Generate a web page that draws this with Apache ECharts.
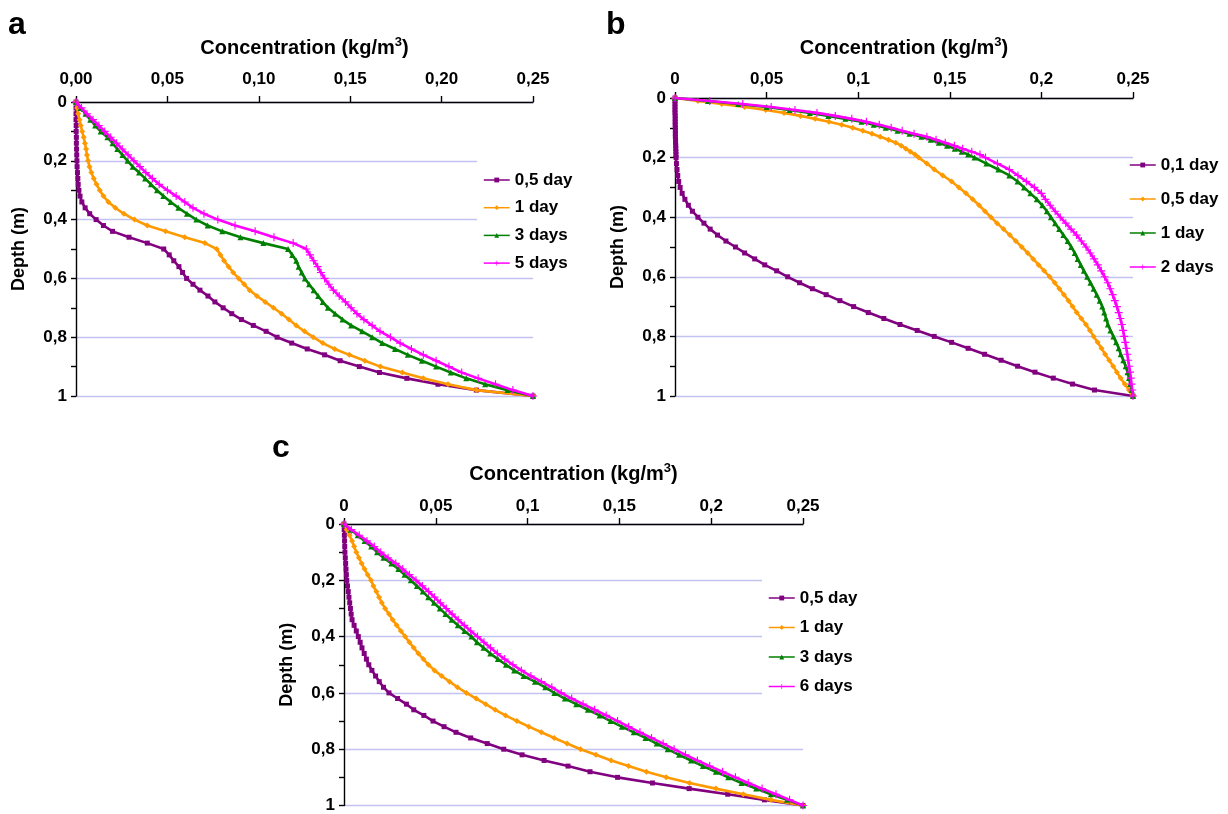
<!DOCTYPE html>
<html>
<head>
<meta charset="utf-8">
<title>Concentration profiles</title>
<script src="https://cdn.jsdelivr.net/npm/echarts@6/dist/echarts.min.js"></script>
<style>
  html, body { margin: 0; padding: 0; background: #fff; }
  #chart { width: 1228px; height: 814px; }
</style>
</head>
<body>
<div id="chart"></div>
<script>
// ---- depth grids (m) ----
const depthA = [0,0.02,0.04,0.06,0.08,0.1,0.12,0.14,0.16,0.18,0.2,0.22,0.24,0.26,0.28,0.3,0.32,0.34,0.36,0.38,0.4,0.42,0.44,0.46,0.48,0.5,0.52,0.54,0.56,0.58,0.6,0.62,0.64,0.66,0.68,0.7,0.72,0.74,0.76,0.78,0.8,0.82,0.84,0.86,0.88,0.9,0.92,0.94,0.96,0.98,1];
const depthB = [0,0.01,0.02,0.03,0.04,0.05,0.06,0.07,0.08,0.09,0.1,0.11,0.12,0.13,0.14,0.15,0.16,0.17,0.18,0.19,0.2,0.22,0.24,0.26,0.28,0.3,0.32,0.34,0.36,0.38,0.4,0.42,0.44,0.46,0.48,0.5,0.52,0.54,0.56,0.58,0.6,0.62,0.64,0.66,0.68,0.7,0.72,0.74,0.76,0.78,0.8,0.82,0.84,0.86,0.88,0.9,0.92,0.94,0.96,0.98,1];
const depthC = [0,0.02,0.04,0.06,0.08,0.1,0.12,0.14,0.16,0.18,0.2,0.22,0.24,0.26,0.28,0.3,0.32,0.34,0.36,0.38,0.4,0.42,0.44,0.46,0.48,0.5,0.52,0.54,0.56,0.58,0.6,0.62,0.64,0.66,0.68,0.7,0.72,0.74,0.76,0.78,0.8,0.82,0.84,0.86,0.88,0.9,0.92,0.94,0.96,0.98,1];

// ---- panel a: concentration (kg/m3) ----
const concA_05day = [0,0,0,0,0.0001,0.0001,0.0002,0.0002,0.0003,0.0004,0.0005,0.0006,0.0008,0.001,0.0012,0.0016,0.0022,0.0032,0.005,0.0075,0.011,0.015,0.02,0.029,0.039,0.048,0.051,0.0535,0.0563,0.0583,0.0605,0.064,0.0678,0.0722,0.076,0.0805,0.0852,0.0905,0.097,0.104,0.11,0.118,0.1265,0.136,0.1445,0.155,0.166,0.181,0.198,0.219,0.25];
const concA_1day = [0,0.0006,0.0012,0.0019,0.0026,0.0034,0.0042,0.0049,0.0055,0.006,0.0066,0.0074,0.0084,0.0097,0.0112,0.013,0.015,0.0177,0.0215,0.0262,0.032,0.039,0.049,0.0595,0.0705,0.077,0.079,0.081,0.0835,0.086,0.089,0.092,0.095,0.099,0.1035,0.108,0.1125,0.1165,0.1205,0.125,0.1298,0.135,0.1415,0.1495,0.158,0.1665,0.1785,0.19,0.2035,0.219,0.25];
const concA_3days = [0,0.0026,0.0052,0.0078,0.0105,0.0135,0.0172,0.02,0.0226,0.0254,0.0282,0.031,0.0345,0.0378,0.041,0.0443,0.0478,0.0518,0.056,0.0607,0.0658,0.072,0.08,0.09,0.1025,0.116,0.1183,0.1205,0.1218,0.1235,0.1252,0.1275,0.13,0.1325,0.135,0.1378,0.1418,0.1458,0.1505,0.1565,0.162,0.1675,0.1745,0.1815,0.1892,0.197,0.205,0.2135,0.2238,0.236,0.25];
const concA_5days = [0,0.003,0.006,0.0093,0.0125,0.0157,0.019,0.0222,0.0253,0.0285,0.0317,0.035,0.0382,0.0418,0.0455,0.05,0.0548,0.0595,0.064,0.07,0.0776,0.087,0.098,0.1083,0.1188,0.126,0.128,0.13,0.1322,0.134,0.136,0.1383,0.1408,0.144,0.1474,0.1505,0.1537,0.1575,0.162,0.1663,0.172,0.1773,0.1835,0.19,0.197,0.204,0.211,0.22,0.2295,0.239,0.25];

// ---- panel b ----
const concB_01day = [0,0,0,0,0,0,0.0001,0.0001,0.0001,0.0001,0.0002,0.0002,0.0002,0.0002,0.0003,0.0003,0.0004,0.0004,0.0005,0.0005,0.0006,0.0008,0.0011,0.0015,0.002,0.0028,0.0039,0.0054,0.0073,0.0095,0.0125,0.0158,0.0192,0.0232,0.0278,0.033,0.038,0.0435,0.049,0.0555,0.0615,0.068,0.075,0.0825,0.09,0.0975,0.1055,0.114,0.1228,0.1322,0.1415,0.151,0.16,0.169,0.178,0.187,0.1965,0.2065,0.217,0.229,0.25];
const concB_05day = [0,0.0125,0.0255,0.038,0.0495,0.0595,0.0685,0.0765,0.084,0.091,0.097,0.1025,0.1075,0.112,0.1165,0.1205,0.1235,0.126,0.1285,0.131,0.133,0.1375,0.1415,0.1462,0.151,0.155,0.1588,0.1625,0.166,0.1692,0.1725,0.1758,0.1793,0.1828,0.186,0.1893,0.1925,0.1955,0.1985,0.2015,0.2045,0.2073,0.2098,0.2123,0.2148,0.217,0.2193,0.2218,0.2243,0.2265,0.2285,0.2307,0.2328,0.2348,0.237,0.2392,0.2412,0.2432,0.2455,0.2478,0.25];
const concB_1day = [0,0.018,0.0345,0.05,0.0625,0.0736,0.0837,0.093,0.1018,0.1085,0.115,0.1215,0.128,0.1345,0.1396,0.144,0.1485,0.1527,0.1565,0.16,0.1635,0.17,0.1765,0.1825,0.187,0.1905,0.194,0.1975,0.2005,0.203,0.2052,0.2075,0.2097,0.212,0.2143,0.2163,0.2182,0.2198,0.2215,0.2232,0.225,0.2268,0.2285,0.2302,0.2318,0.2332,0.2343,0.2353,0.2363,0.2377,0.2393,0.2408,0.2422,0.2433,0.2447,0.246,0.247,0.2478,0.2485,0.2493,0.25];
const concB_2days = [0,0.019,0.037,0.0525,0.0655,0.0775,0.0875,0.0965,0.1045,0.1115,0.118,0.124,0.1305,0.1375,0.1425,0.1475,0.1525,0.157,0.162,0.1665,0.1695,0.176,0.1825,0.1872,0.1918,0.1962,0.2,0.2022,0.2048,0.2075,0.2103,0.2133,0.2162,0.2192,0.2218,0.2244,0.2267,0.2288,0.2308,0.2327,0.2345,0.2362,0.2376,0.2389,0.2401,0.2412,0.2422,0.2431,0.2439,0.2446,0.2452,0.2458,0.2464,0.2469,0.2474,0.2479,0.2484,0.2488,0.2492,0.2496,0.25];

// ---- panel c ----
const concC_05day = [0,0.0001,0.0002,0.0003,0.0004,0.0005,0.0007,0.0009,0.0011,0.0013,0.0015,0.0019,0.0023,0.0027,0.0031,0.0035,0.0039,0.0044,0.0055,0.0067,0.0078,0.0088,0.0098,0.011,0.0122,0.0135,0.0152,0.0172,0.0192,0.0215,0.0245,0.0292,0.034,0.038,0.0435,0.0485,0.0545,0.061,0.069,0.078,0.087,0.097,0.109,0.122,0.134,0.149,0.168,0.188,0.209,0.229,0.25];
const concC_1day = [0,0.0015,0.003,0.0044,0.0055,0.0067,0.0081,0.0096,0.0112,0.0129,0.0147,0.016,0.0176,0.0191,0.0206,0.0224,0.0245,0.0265,0.0287,0.031,0.0333,0.0356,0.038,0.0405,0.0432,0.046,0.0493,0.0532,0.0575,0.0618,0.0667,0.072,0.0772,0.0823,0.088,0.0942,0.1007,0.1075,0.1145,0.1215,0.1288,0.1372,0.1455,0.155,0.1647,0.1755,0.1882,0.2025,0.2175,0.2325,0.25];
const concC_3days = [0,0.0037,0.0075,0.0112,0.0148,0.018,0.0215,0.0258,0.0296,0.033,0.0364,0.0397,0.0429,0.0459,0.049,0.0522,0.0553,0.0586,0.062,0.0656,0.0694,0.0724,0.076,0.0797,0.0838,0.0882,0.0927,0.0978,0.104,0.1096,0.1146,0.1203,0.1265,0.1328,0.1392,0.1452,0.1513,0.1578,0.1642,0.1703,0.1763,0.1825,0.189,0.1955,0.2025,0.2093,0.2165,0.2245,0.2325,0.2413,0.25];
const concC_6days = [0,0.004,0.0083,0.0125,0.0165,0.02,0.024,0.0282,0.032,0.0356,0.0392,0.0427,0.0461,0.0493,0.0525,0.0557,0.0589,0.0622,0.0655,0.069,0.0727,0.0762,0.0798,0.0835,0.0875,0.092,0.0966,0.1018,0.1075,0.1132,0.1183,0.124,0.1302,0.1365,0.1428,0.149,0.155,0.1612,0.1675,0.1738,0.1798,0.186,0.1925,0.1992,0.2062,0.2132,0.2202,0.2277,0.2353,0.2427,0.25];

// ---- legend entries and tick labels ----
const legendA = ['0,5 day', '1 day', '3 days', '5 days'];
const legendB = ['0,1 day', '0,5 day', '1 day', '2 days'];
const legendC = ['0,5 day', '1 day', '3 days', '6 days'];
const xTicksA = ['0,00', '0,05', '0,10', '0,15', '0,20', '0,25'];
const xTicksBC = ['0', '0,05', '0,1', '0,15', '0,2', '0,25'];
const yTicks = ['0', '0,2', '0,4', '0,6', '0,8', '1'];

const FONT = '"Liberation Sans", Arial, Helvetica, sans-serif';
const PLUS = 'path://M3,0H4V3H7V4H4V7H3V4H0V3H3Z';
const STYLES = [
  { color: '#800080', symbol: 'rect', size: 5 },
  { color: '#ff9900', symbol: 'diamond', size: 6 },
  { color: '#008000', symbol: 'triangle', size: 6 },
  { color: '#ff00ff', symbol: PLUS, size: 8 }
];

function makeSeries(panel, idx, names, depth, concs) {
  return concs.map(function (conc, i) {
    const st = STYLES[i];
    return {
      type: 'line',
      name: panel + ':' + names[i],
      xAxisIndex: idx,
      yAxisIndex: idx,
      data: depth.map(function (d, k) { return [conc[k], d]; }),
      symbol: st.symbol,
      symbolSize: st.size,
      showSymbol: true,
      clip: false,
      lineStyle: { color: st.color, width: 2.6 },
      itemStyle: { color: st.color, borderWidth: 0 },
      emphasis: { disabled: true },
      z: 3 + i
    };
  });
}

function xAxisFor(idx, labels, labelMargin, nameGap) {
  return {
    type: 'value', gridIndex: idx, position: 'top',
    min: 0, max: 0.25, interval: 0.05,
    name: 'Concentration (kg/m{sup|3})',
    nameLocation: 'middle', nameGap: nameGap,
    nameTextStyle: {
      fontFamily: FONT, fontSize: 20, fontWeight: 'bold', color: '#000', lineHeight: 24,
      rich: { sup: { fontFamily: FONT, fontSize: 13, fontWeight: 'bold', color: '#000', verticalAlign: 'top', lineHeight: 14 } }
    },
    axisLine: { show: true, onZero: false, lineStyle: { color: '#000', width: 1.4 } },
    axisTick: { show: true, length: 6, lineStyle: { color: '#000', width: 1.4 } },
    axisLabel: {
      margin: labelMargin, fontFamily: FONT, fontSize: 17, fontWeight: 'bold', color: '#000',
      formatter: function (v) { return labels[Math.round(v / 0.05)]; }
    },
    splitLine: { show: false }
  };
}

function yAxisFor(idx, nameGap) {
  return {
    type: 'value', gridIndex: idx, inverse: true,
    min: 0, max: 1, interval: 0.2,
    name: 'Depth (m)', nameLocation: 'middle', nameGap: nameGap,
    nameTextStyle: { fontFamily: FONT, fontSize: 18, fontWeight: 'bold', color: '#000' },
    axisLine: { show: true, onZero: false, lineStyle: { color: '#000', width: 1.4 } },
    axisTick: { show: true, length: 5, lineStyle: { color: '#000', width: 1.4 } },
    minorTick: { show: true, splitNumber: 2, length: 5, lineStyle: { color: '#000', width: 1.4 } },
    axisLabel: {
      margin: 9, fontFamily: FONT, fontSize: 17, fontWeight: 'bold', color: '#000',
      formatter: function (v) { return yTicks[Math.round(v / 0.2)]; }
    },
    splitLine: { show: true, lineStyle: { color: '#c3c3f2', width: 1.3 } }
  };
}

function legendFor(panel, names, left, top, gap, padding, bg) {
  return {
    orient: 'vertical', left: left, top: top,
    itemGap: gap, itemWidth: 26, itemHeight: 6,
    padding: padding,
    backgroundColor: bg,
    selectedMode: false,
    data: names.map(function (n) { return panel + ':' + n; }),
    formatter: function (n) { return n.slice(n.indexOf(':') + 1); },
    textStyle: { fontFamily: FONT, fontSize: 17, fontWeight: 'bold', color: '#000', lineHeight: 18 },
    lineStyle: { width: 1.5 }
  };
}

const chart = echarts.init(document.getElementById('chart'), null, { renderer: 'canvas' });

const option = {
  animation: false,
  backgroundColor: '#fff',
  grid: [
    { left: 76, top: 102, width: 457, height: 294 },
    { left: 675, top: 98, width: 458, height: 298 },
    { left: 344, top: 524, width: 459, height: 285 }
  ],
  xAxis: [
    xAxisFor(0, xTicksA, 14, 42),
    xAxisFor(1, xTicksBC, 10, 38),
    xAxisFor(2, xTicksBC, 9, 38)
  ],
  yAxis: [yAxisFor(0, 48), yAxisFor(1, 48), yAxisFor(2, 48)],
  legend: [
    legendFor('a', legendA, 477, 160, 9.7, [11, 4, 5, 6], '#fff'),
    legendFor('b', legendB, 1123, 147, 16, [9, 4, 5, 6], 'transparent'),
    legendFor('c', legendC, 762, 578, 11.5, [11, 4, 6, 6], '#fff')
  ],
  series: [].concat(
    makeSeries('a', 0, legendA, depthA, [concA_05day, concA_1day, concA_3days, concA_5days]),
    makeSeries('b', 1, legendB, depthB, [concB_01day, concB_05day, concB_1day, concB_2days]),
    makeSeries('c', 2, legendC, depthC, [concC_05day, concC_1day, concC_3days, concC_6days])
  ),
  graphic: [
    { type: 'text', x: 8, y: 25, style: { text: 'a', font: 'bold 32px ' + FONT, fill: '#000', verticalAlign: 'middle' } },
    { type: 'text', x: 606, y: 25, style: { text: 'b', font: 'bold 32px ' + FONT, fill: '#000', verticalAlign: 'middle' } },
    { type: 'text', x: 272, y: 448, style: { text: 'c', font: 'bold 32px ' + FONT, fill: '#000', verticalAlign: 'middle' } }
  ]
};

chart.setOption(option);
</script>
</body>
</html>
